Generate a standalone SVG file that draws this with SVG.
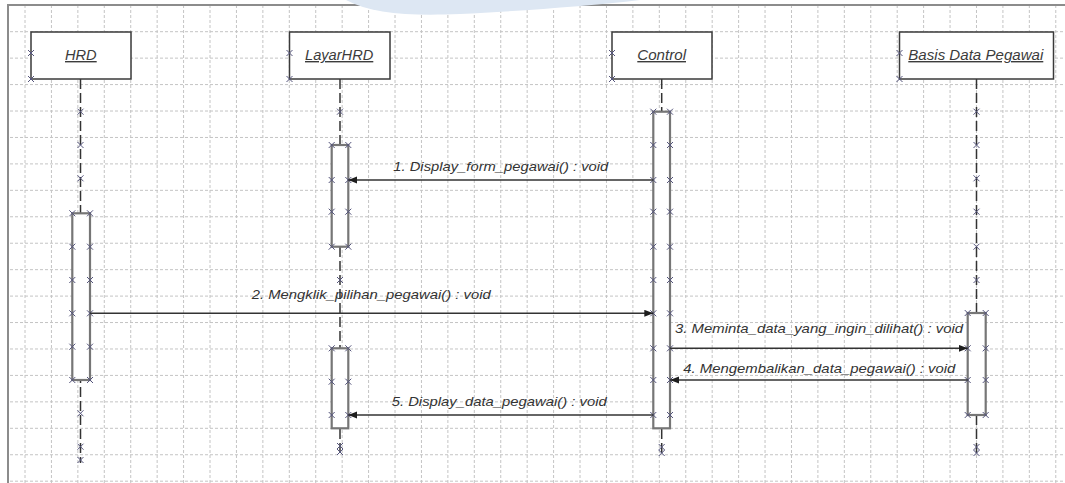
<svg xmlns="http://www.w3.org/2000/svg" xmlns:xlink="http://www.w3.org/1999/xlink" width="1065" height="483" viewBox="0 0 1065 483">
  <defs>
    <style>
      .grid line { stroke: #c4c4c4; stroke-width: 1; stroke-dasharray: 3 2; }
      .frame { stroke: #8c8c8c; stroke-width: 2; fill: none; }
      .head { fill: #ffffff; stroke: #3a3a3a; stroke-width: 1.5; }
      .name { font-family: "Liberation Sans", Arial, sans-serif; font-size: 14px; font-style: italic; fill: #3c3c3c; text-decoration: underline; }
      .life { stroke: #333333; stroke-width: 1.5; stroke-dasharray: 10 4; fill: none; }
      .act { fill: #ffffff; stroke: #767676; stroke-width: 2.2; }
      .msg { stroke: #333333; stroke-width: 1.4; fill: none; marker-end: url(#arrow); }
      .lbl { font-family: "Liberation Sans", Arial, sans-serif; font-size: 12.8px; font-style: italic; fill: #333333; }
      .mk { stroke: #55557c; stroke-width: 1; fill: none; }
    </style>
    <marker id="arrow" markerUnits="userSpaceOnUse" markerWidth="10" markerHeight="8" refX="9" refY="3.5" orient="auto">
      <path d="M0,0 L9,3.5 L0,7 Z" fill="#1e1e1e"/>
    </marker>
    <path id="m" class="mk" d="M-3,-3 L3,3 M3,-3 L-3,3"/>
    <clipPath id="inside">
      <rect x="9" y="6" width="1056" height="477"/>
    </clipPath>
  </defs>

  <rect x="0" y="0" width="1065" height="483" fill="#ffffff"/>

  <!-- background grid -->
  <g class="grid" clip-path="url(#inside)">
    <line x1="25" y1="0" x2="25" y2="483"/>
    <line x1="51.43" y1="0" x2="51.43" y2="483"/>
    <line x1="77.86" y1="0" x2="77.86" y2="483"/>
    <line x1="104.29" y1="0" x2="104.29" y2="483"/>
    <line x1="130.72" y1="0" x2="130.72" y2="483"/>
    <line x1="157.15" y1="0" x2="157.15" y2="483"/>
    <line x1="183.58" y1="0" x2="183.58" y2="483"/>
    <line x1="210.01" y1="0" x2="210.01" y2="483"/>
    <line x1="236.44" y1="0" x2="236.44" y2="483"/>
    <line x1="262.87" y1="0" x2="262.87" y2="483"/>
    <line x1="289.3" y1="0" x2="289.3" y2="483"/>
    <line x1="315.73" y1="0" x2="315.73" y2="483"/>
    <line x1="342.16" y1="0" x2="342.16" y2="483"/>
    <line x1="368.59" y1="0" x2="368.59" y2="483"/>
    <line x1="395.02" y1="0" x2="395.02" y2="483"/>
    <line x1="421.45" y1="0" x2="421.45" y2="483"/>
    <line x1="447.88" y1="0" x2="447.88" y2="483"/>
    <line x1="474.31" y1="0" x2="474.31" y2="483"/>
    <line x1="500.74" y1="0" x2="500.74" y2="483"/>
    <line x1="527.17" y1="0" x2="527.17" y2="483"/>
    <line x1="553.6" y1="0" x2="553.6" y2="483"/>
    <line x1="580.03" y1="0" x2="580.03" y2="483"/>
    <line x1="606.46" y1="0" x2="606.46" y2="483"/>
    <line x1="632.89" y1="0" x2="632.89" y2="483"/>
    <line x1="659.32" y1="0" x2="659.32" y2="483"/>
    <line x1="685.75" y1="0" x2="685.75" y2="483"/>
    <line x1="712.18" y1="0" x2="712.18" y2="483"/>
    <line x1="738.61" y1="0" x2="738.61" y2="483"/>
    <line x1="765.04" y1="0" x2="765.04" y2="483"/>
    <line x1="791.47" y1="0" x2="791.47" y2="483"/>
    <line x1="817.9" y1="0" x2="817.9" y2="483"/>
    <line x1="844.33" y1="0" x2="844.33" y2="483"/>
    <line x1="870.76" y1="0" x2="870.76" y2="483"/>
    <line x1="897.19" y1="0" x2="897.19" y2="483"/>
    <line x1="923.62" y1="0" x2="923.62" y2="483"/>
    <line x1="950.05" y1="0" x2="950.05" y2="483"/>
    <line x1="976.48" y1="0" x2="976.48" y2="483"/>
    <line x1="1002.91" y1="0" x2="1002.91" y2="483"/>
    <line x1="1029.34" y1="0" x2="1029.34" y2="483"/>
    <line x1="1055.77" y1="0" x2="1055.77" y2="483"/>
    <line x1="0" y1="31.7" x2="1065" y2="31.7"/>
    <line x1="0" y1="58.14" x2="1065" y2="58.14"/>
    <line x1="0" y1="84.58" x2="1065" y2="84.58"/>
    <line x1="0" y1="111.02" x2="1065" y2="111.02"/>
    <line x1="0" y1="137.46" x2="1065" y2="137.46"/>
    <line x1="0" y1="163.9" x2="1065" y2="163.9"/>
    <line x1="0" y1="190.34" x2="1065" y2="190.34"/>
    <line x1="0" y1="216.78" x2="1065" y2="216.78"/>
    <line x1="0" y1="243.22" x2="1065" y2="243.22"/>
    <line x1="0" y1="269.66" x2="1065" y2="269.66"/>
    <line x1="0" y1="296.1" x2="1065" y2="296.1"/>
    <line x1="0" y1="322.54" x2="1065" y2="322.54"/>
    <line x1="0" y1="348.98" x2="1065" y2="348.98"/>
    <line x1="0" y1="375.42" x2="1065" y2="375.42"/>
    <line x1="0" y1="401.86" x2="1065" y2="401.86"/>
    <line x1="0" y1="428.3" x2="1065" y2="428.3"/>
    <line x1="0" y1="454.74" x2="1065" y2="454.74"/>
    <line x1="0" y1="481.18" x2="1065" y2="481.18"/>
  </g>

  <!-- page frame -->
  <path class="frame" d="M8,483 L8,5 L1065,5"/>

  <!-- light blue band along the top edge -->
  <path d="M346,0 C372,14 410,16 460,14 C520,11 590,6 640,0 Z" fill="#dde7f3"/>

  <!-- lifeline: HRD -->
  <g id="hrd">
    <line class="life" x1="80.5" y1="79" x2="80.5" y2="463"/>
    <rect class="head" x="31" y="32" width="100" height="47"/>
    <text class="name" x="65" y="60" textLength="31.7" lengthAdjust="spacingAndGlyphs">HRD</text>
    <use xlink:href="#m" x="31" y="53"/>
    <use xlink:href="#m" x="31" y="79"/>
    <use xlink:href="#m" x="80.5" y="111.7"/>
    <use xlink:href="#m" x="80.5" y="145"/>
    <use xlink:href="#m" x="80.5" y="178.3"/>
    <rect class="act" x="72.3" y="213.3" width="17.7" height="166.7"/>
    <use xlink:href="#m" x="72.3" y="213.3"/><use xlink:href="#m" x="90" y="213.3"/>
    <use xlink:href="#m" x="72.3" y="246.7"/><use xlink:href="#m" x="90" y="246.7"/>
    <use xlink:href="#m" x="72.3" y="280"/><use xlink:href="#m" x="90" y="280"/>
    <use xlink:href="#m" x="72.3" y="313.3"/><use xlink:href="#m" x="90" y="313.3"/>
    <use xlink:href="#m" x="72.3" y="346.7"/><use xlink:href="#m" x="90" y="346.7"/>
    <use xlink:href="#m" x="72.3" y="380"/><use xlink:href="#m" x="90" y="380"/>
    <use xlink:href="#m" x="80.5" y="413.3"/>
    <use xlink:href="#m" x="80.5" y="446.7"/>
    <use xlink:href="#m" x="80.5" y="460"/>
  </g>

  <!-- lifeline: LayarHRD -->
  <g id="layarhrd">
    <line class="life" x1="340" y1="79" x2="340" y2="456"/>
    <rect class="head" x="289.5" y="32" width="100.5" height="47"/>
    <text class="name" x="305" y="60" textLength="68.3" lengthAdjust="spacingAndGlyphs">LayarHRD</text>
    <use xlink:href="#m" x="289.5" y="53"/>
    <use xlink:href="#m" x="289.5" y="79"/>
    <use xlink:href="#m" x="340" y="111.7"/>
    <rect class="act" x="331.7" y="145" width="16.6" height="101.7"/>
    <use xlink:href="#m" x="331.7" y="145"/><use xlink:href="#m" x="348.3" y="145"/>
    <use xlink:href="#m" x="331.7" y="180"/><use xlink:href="#m" x="348.3" y="180"/>
    <use xlink:href="#m" x="331.7" y="211.7"/><use xlink:href="#m" x="348.3" y="211.7"/>
    <use xlink:href="#m" x="331.7" y="246.7"/><use xlink:href="#m" x="348.3" y="246.7"/>
    <use xlink:href="#m" x="340" y="280"/>
    <rect class="act" x="331.7" y="348.3" width="16.6" height="80"/>
    <use xlink:href="#m" x="331.7" y="348.3"/><use xlink:href="#m" x="348.3" y="348.3"/>
    <use xlink:href="#m" x="331.7" y="381.7"/><use xlink:href="#m" x="348.3" y="381.7"/>
    <use xlink:href="#m" x="331.7" y="415"/><use xlink:href="#m" x="348.3" y="415"/>
    <use xlink:href="#m" x="340" y="446"/>
    <use xlink:href="#m" x="340" y="452"/>
  </g>

  <!-- lifeline: Control -->
  <g id="control">
    <line class="life" x1="661.7" y1="79" x2="661.7" y2="457"/>
    <rect class="head" x="612" y="32" width="100" height="47"/>
    <text class="name" x="637.3" y="60" textLength="48.7" lengthAdjust="spacingAndGlyphs">Control</text>
    <use xlink:href="#m" x="612" y="53"/>
    <use xlink:href="#m" x="612" y="79"/>
    <rect class="act" x="653.3" y="111.7" width="16.7" height="316.6"/>
    <use xlink:href="#m" x="653.3" y="111.7"/><use xlink:href="#m" x="670" y="111.7"/>
    <use xlink:href="#m" x="653.3" y="145"/><use xlink:href="#m" x="670" y="145"/>
    <use xlink:href="#m" x="653.3" y="180"/><use xlink:href="#m" x="670" y="180"/>
    <use xlink:href="#m" x="653.3" y="211.7"/><use xlink:href="#m" x="670" y="211.7"/>
    <use xlink:href="#m" x="653.3" y="246.7"/><use xlink:href="#m" x="670" y="246.7"/>
    <use xlink:href="#m" x="653.3" y="280"/><use xlink:href="#m" x="670" y="280"/>
    <use xlink:href="#m" x="653.3" y="313.3"/><use xlink:href="#m" x="670" y="313.3"/>
    <use xlink:href="#m" x="653.3" y="348.3"/><use xlink:href="#m" x="670" y="348.3"/>
    <use xlink:href="#m" x="653.3" y="380"/><use xlink:href="#m" x="670" y="380"/>
    <use xlink:href="#m" x="653.3" y="415"/><use xlink:href="#m" x="670" y="415"/>
    <use xlink:href="#m" x="661.7" y="447"/>
    <use xlink:href="#m" x="661.7" y="453"/>
  </g>

  <!-- lifeline: Basis Data Pegawai -->
  <g id="basis-data-pegawai">
    <line class="life" x1="976.5" y1="79" x2="976.5" y2="457"/>
    <rect class="head" x="899.5" y="32" width="154" height="47"/>
    <text class="name" x="908.3" y="60" textLength="135" lengthAdjust="spacingAndGlyphs">Basis Data Pegawai</text>
    <use xlink:href="#m" x="899.5" y="53"/>
    <use xlink:href="#m" x="899.5" y="79"/>
    <use xlink:href="#m" x="976.5" y="111.7"/>
    <use xlink:href="#m" x="976.5" y="145"/>
    <use xlink:href="#m" x="976.5" y="178.3"/>
    <use xlink:href="#m" x="976.5" y="211.7"/>
    <use xlink:href="#m" x="976.5" y="246.7"/>
    <use xlink:href="#m" x="976.5" y="280"/>
    <rect class="act" x="967.7" y="313" width="18" height="102"/>
    <use xlink:href="#m" x="967.7" y="313"/><use xlink:href="#m" x="985.7" y="313"/>
    <use xlink:href="#m" x="967.7" y="348.3"/><use xlink:href="#m" x="985.7" y="348.3"/>
    <use xlink:href="#m" x="967.7" y="380"/><use xlink:href="#m" x="985.7" y="380"/>
    <use xlink:href="#m" x="967.7" y="415"/><use xlink:href="#m" x="985.7" y="415"/>
    <use xlink:href="#m" x="976.5" y="447"/>
    <use xlink:href="#m" x="976.5" y="453"/>
  </g>

  <!-- messages -->
  <g id="messages">
    <line class="msg" x1="653.3" y1="180" x2="348.3" y2="180"/>
    <text class="lbl" x="393.3" y="170.5" textLength="215" lengthAdjust="spacingAndGlyphs">1. Display_form_pegawai() : void</text>

    <line class="msg" x1="90" y1="313.3" x2="653.3" y2="313.3"/>
    <text class="lbl" x="251.7" y="298.5" textLength="239" lengthAdjust="spacingAndGlyphs">2. Mengklik_pilihan_pegawai() : void</text>

    <line class="msg" x1="670" y1="348.3" x2="967.7" y2="348.3"/>
    <text class="lbl" x="675" y="333" textLength="288" lengthAdjust="spacingAndGlyphs">3. Meminta_data_yang_ingin_dilihat() : void</text>

    <line class="msg" x1="967.7" y1="380" x2="670" y2="380"/>
    <text class="lbl" x="683.3" y="372.5" textLength="272" lengthAdjust="spacingAndGlyphs">4. Mengembalikan_data_pegawai() : void</text>

    <line class="msg" x1="653.3" y1="415" x2="348.3" y2="415"/>
    <text class="lbl" x="391.7" y="406" textLength="215" lengthAdjust="spacingAndGlyphs">5. Display_data_pegawai() : void</text>
  </g>
</svg>
